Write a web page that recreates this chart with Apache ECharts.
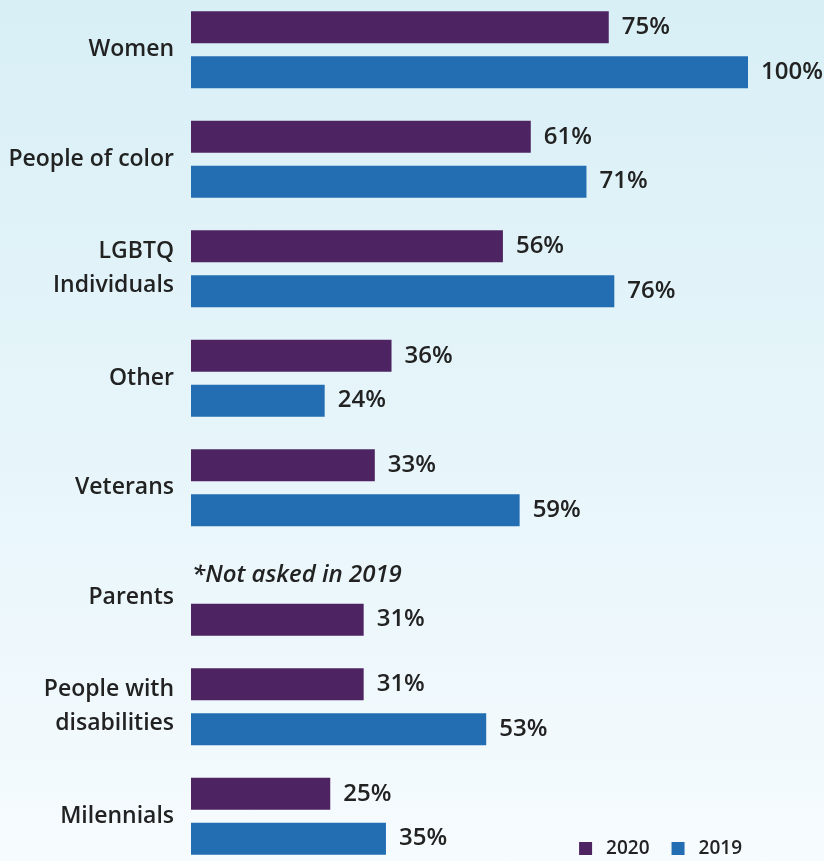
<!DOCTYPE html>
<html>
<head>
<meta charset="utf-8">
<script src="https://cdn.jsdelivr.net/npm/echarts@6/dist/echarts.min.js"></script>
<style>
html,body{margin:0;padding:0;width:824px;height:861px;overflow:hidden;}
body{position:relative;background:linear-gradient(to bottom,#d8eff6 0%,#e6f5fa 50%,#f6fbfe 100%);}
#chart{position:absolute;left:0;top:-5px;width:824px;height:876px;}
</style>
</head>
<body>
<div id="chart"></div>
<script>
var categories = ['Women','People of color','LGBTQ\nIndividuals','Other','Veterans','Parents','People with\ndisabilities','Milennials'];
var values2020 = [75, 61, 56, 36, 33, 31, 31, 25];
var values2019 = [100, 71, 76, 24, 59, null, 53, 35];
var seriesNames = ['2020', '2019'];
var noteText = '*Not asked in 2019';

var C2020 = '#4e2362', C2019 = '#236eb2';
var FONT = 'Open Sans';

// When 2019 was not asked, the 2020 bar sits in the lower slot and the note takes the upper slot.
var upperSlot = [], lowerSlot = [];
for (var i = 0; i < categories.length; i++) {
  if (values2019[i] == null) {
    upperSlot.push({value: 0, label: {show: true, position: 'insideLeft', offset: [-12, 0], formatter: noteText,
      fontStyle: 'italic', fontWeight: 600, fontSize: 24, color: '#222'}});
    lowerSlot.push({value: values2020[i], itemStyle: {color: C2020}});
  } else {
    upperSlot.push(values2020[i]);
    lowerSlot.push(values2019[i]);
  }
}

var valueLabel = {show: true, position: 'right', distance: 13, formatter: function(p){return p.value + '%';},
  fontSize: 24, fontWeight: 600, color: '#222', fontFamily: FONT};

var chart = echarts.init(document.getElementById('chart'));
chart.setOption({
  backgroundColor: 'transparent',
  animation: false,
  textStyle: {fontFamily: FONT},
  grid: {left: 191, right: 76, top: 0, height: 876, containLabel: false},
  xAxis: {type: 'value', min: 0, max: 100, show: false},
  yAxis: {
    type: 'category', data: categories, inverse: true,
    axisLine: {show: false}, axisTick: {show: false}, splitLine: {show: false},
    axisLabel: {margin: 17, fontSize: 23, fontWeight: 600, color: '#222', lineHeight: 34, fontFamily: FONT}
  },
  legend: {
    right: 82, top: 844, padding: 0, itemWidth: 13, itemHeight: 13, itemGap: 22,
    icon: 'rect',
    textStyle: {fontSize: 19, fontWeight: 600, color: '#222', fontFamily: FONT, padding: [0, 0, 0, 9]},
    data: seriesNames
  },
  series: [
    {name: seriesNames[0], type: 'bar', data: upperSlot, barWidth: 32, barGap: '40%',
     itemStyle: {color: C2020}, label: valueLabel},
    {name: seriesNames[1], type: 'bar', data: lowerSlot, barWidth: 32, barGap: '40%',
     itemStyle: {color: C2019}, label: valueLabel}
  ]
});
</script>
</body>
</html>
